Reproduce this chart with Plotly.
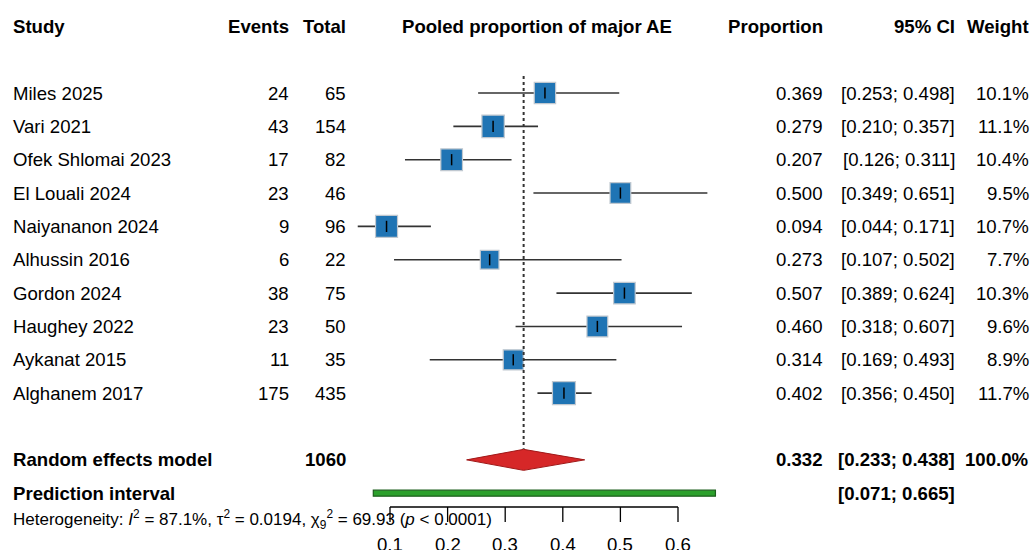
import plotly.graph_objects as go

# ---------------- data ----------------
studies = ["Miles 2025", "Vari 2021", "Ofek Shlomai 2023", "El Louali 2024", "Naiyananon 2024",
           "Alhussin 2016", "Gordon 2024", "Haughey 2022", "Aykanat 2015", "Alghanem 2017"]
events = [24, 43, 17, 23, 9, 6, 38, 23, 11, 175]
totals = [65, 154, 82, 46, 96, 22, 75, 50, 35, 435]
prop = [0.369, 0.279, 0.207, 0.500, 0.094, 0.273, 0.507, 0.460, 0.314, 0.402]
ci_lo = [0.253, 0.210, 0.126, 0.349, 0.044, 0.107, 0.389, 0.318, 0.169, 0.356]
ci_hi = [0.498, 0.357, 0.311, 0.651, 0.171, 0.502, 0.624, 0.607, 0.493, 0.450]
weights = [10.1, 11.1, 10.4, 9.5, 10.7, 7.7, 10.3, 9.6, 8.9, 11.7]

re_est, re_lo, re_hi = 0.332, 0.233, 0.438
re_total = 1060
pi_lo, pi_hi = 0.071, 0.665
het_text = ("Heterogeneity: <i>I</i><sup>2</sup> = 87.1%, τ<sup>2</sup> = 0.0194, "
            "χ<sub>9</sub><sup>2</sup> = 69.93 (<i>p</i> < 0.0001)")
tick_vals = [0.1, 0.2, 0.3, 0.4, 0.5, 0.6]
tick_text = ["0.1", "0.2", "0.3", "0.4", "0.5", "0.6"]
headers = ["Study", "Events", "Total", "Pooled proportion of major AE", "Proportion", "95% CI", "Weight"]

# ---------------- layout geometry (pixels) ----------------
W, H = 1032, 550
X0PX, SCALE = 390.0, 576.0            # pixel of 0.1 and pixels per unit


def v_of_px(px):
    return 0.1 + (px - X0PX) / SCALE


row_y0, row_dy = 93.0, 33.35
rows_y = [row_y0 + i * row_dy for i in range(len(studies))]
y_re = rows_y[-1] + 2 * row_dy
y_pi = y_re + row_dy
y_het = 519.0
y_head = 26.0
axis_y, tick_len, tick_lab_y = 507.0, 15.0, 544.0

FONT = "Liberation Sans, Arial, sans-serif"
FS = 18.6

col_study_l = 12
col_events_r = 290
col_total_r = 347
col_plot_c = 537
col_prop_r = 824
col_ci_r = 956
col_w_r = 1030

fig = go.Figure()

# CI lines
xs, ys = [], []
for lo, hi, y in zip(ci_lo, ci_hi, rows_y):
    xs += [lo, hi, None]
    ys += [y, y, None]
fig.add_trace(go.Scatter(x=xs, y=ys, mode="lines", line=dict(color="#333333", width=1.6),
                         hoverinfo="skip", showlegend=False))

# squares sized by weight (area ~ weight)
sizes = [6.72 * (w ** 0.5) for w in weights]
fig.add_trace(go.Scatter(x=prop, y=rows_y, mode="markers",
                         marker=dict(symbol="square", size=sizes, color="#1f74b4", opacity=1,
                                     line=dict(color="#c0c8d0", width=1.2)),
                         showlegend=False))
# estimate tick inside squares
fig.add_trace(go.Scatter(x=prop, y=rows_y, mode="markers",
                         marker=dict(symbol="line-ns", size=8, opacity=1,
                                     line=dict(color="black", width=1.5)),
                         showlegend=False))

# reference dotted line at pooled estimate
fig.add_shape(type="line", x0=re_est, x1=re_est, y0=76, y1=y_re - 11,
              line=dict(color="#333333", width=2, dash="dot"))

# diamond for random effects
dh = 10.5
fig.add_trace(go.Scatter(x=[re_lo, re_est, re_hi, re_est, re_lo],
                         y=[y_re, y_re - dh, y_re, y_re + dh, y_re],
                         mode="lines", fill="toself", fillcolor="#d62728",
                         line=dict(color="#a01818", width=1), showlegend=False))

# prediction interval bar
fig.add_shape(type="rect", x0=pi_lo, x1=pi_hi, y0=y_pi - 3, y1=y_pi + 3,
              fillcolor="#2ca02c", line=dict(color="#1d5e1d", width=1.2))

# x axis drawn manually
fig.add_shape(type="line", x0=tick_vals[0], x1=tick_vals[-1], y0=axis_y, y1=axis_y,
              line=dict(color="black", width=1.3))
for tv, tt in zip(tick_vals, tick_text):
    fig.add_shape(type="line", x0=tv, x1=tv, y0=axis_y, y1=axis_y + tick_len,
                  line=dict(color="black", width=1.3))
    fig.add_annotation(x=tv, y=tick_lab_y, text=tt, showarrow=False, xanchor="center",
                       yanchor="middle", font=dict(family=FONT, size=FS, color="black"))


def txt(px, y, s, anchor="left", bold=False, size=FS):
    if bold:
        s = "<b>" + s + "</b>"
    fig.add_annotation(x=px / W, xref="paper", y=y, yref="y", text=s, showarrow=False,
                       xanchor=anchor, yanchor="middle", borderpad=0,
                       font=dict(family=FONT, size=size, color="black"))


# headers
txt(col_study_l, y_head, headers[0], "left", True)
txt(col_events_r, y_head, headers[1], "right", True)
txt(col_total_r, y_head, headers[2], "right", True)
txt(col_plot_c, y_head, headers[3], "center", True)
txt(col_prop_r, y_head, headers[4], "right", True)
txt(col_ci_r, y_head, headers[5], "right", True)
txt(col_w_r, y_head, headers[6], "right", True)

# study rows
for s, e, n, p, lo, hi, w, y in zip(studies, events, totals, prop, ci_lo, ci_hi, weights, rows_y):
    txt(col_study_l, y, s, "left")
    txt(col_events_r, y, str(e), "right")
    txt(col_total_r, y, str(n), "right")
    txt(col_prop_r, y, f"{p:.3f}", "right")
    txt(col_ci_r, y, f"[{lo:.3f}; {hi:.3f}]", "right")
    txt(col_w_r, y, f"{w:.1f}%", "right")

# summary rows
txt(col_study_l, y_re, "Random effects model", "left", True)
txt(col_total_r, y_re, str(re_total), "right", True)
txt(col_prop_r, y_re, f"{re_est:.3f}", "right", True)
txt(col_ci_r, y_re, f"[{re_lo:.3f}; {re_hi:.3f}]", "right", True)
txt(col_w_r, y_re, f"{sum(weights):.1f}%", "right", True)

txt(col_study_l, y_pi, "Prediction interval", "left", True)
txt(col_ci_r, y_pi, f"[{pi_lo:.3f}; {pi_hi:.3f}]", "right", True)

txt(col_study_l, y_het, het_text, "left", False, 17)

fig.update_layout(
    width=W, height=H, autosize=False,
    margin=dict(l=0, r=0, t=0, b=0, pad=0),
    paper_bgcolor="white", plot_bgcolor="white",
    xaxis=dict(range=[v_of_px(0), v_of_px(W)], visible=False, fixedrange=True),
    yaxis=dict(range=[H, 0], visible=False, fixedrange=True),
    showlegend=False,
)

fig.write_html("out.html", config={"displayModeBar": False},
               post_script="document.body.style.margin='0';")
